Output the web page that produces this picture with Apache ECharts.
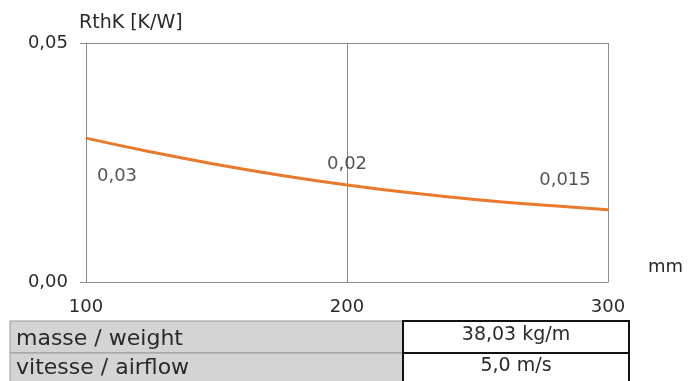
<!DOCTYPE html>
<html>
<head>
<meta charset="utf-8">
<script src="https://cdn.jsdelivr.net/npm/echarts@6/dist/echarts.min.js"></script>
<style>
html,body{margin:0;padding:0;background:#fff;}
#chart{width:688px;height:381px;}
</style>
</head>
<body>
<div id="chart"></div>
<script>
// Curve samples (x in mm, Rth in K/W)
const xValues = [100, 125, 150, 175, 200, 225, 250, 275, 300];
const rthValues = [0.0301, 0.0272, 0.0246, 0.0223, 0.0203, 0.0186, 0.0172, 0.0161, 0.0151];
// Annotated values
const labelX = [100, 200, 300];
const labelValues = [0.03, 0.02, 0.015];
// Axis ticks
const yTicks = [0, 0.05];
const xTicks = [100, 200, 300];
// Table
const tableLabels = ['masse / weight', 'vitesse / airflow'];
const tableValues = ['38,03 kg/m', '5,0 m/s'];

const FONT = 'DejaVu Sans';
const TXT = '#2a2a2a';
const GRID = '#8a8a8a';
const labelOffsets = [[31, 38], [0, -22], [-43, -30]];

const chart = echarts.init(document.getElementById('chart'));

const graphics = [];
tableLabels.forEach((t, i) => {
  const y = 321 + i * 32;
  graphics.push({type:'rect', shape:{x:10, y:y, width:393, height:32},
    style:{fill:'#d4d4d4', stroke:'#9a9a9a', lineWidth:1}, z:10});
});
tableValues.forEach((t, i) => {
  const y = 321 + i * 32;
  graphics.push({type:'rect', shape:{x:403, y:y, width:226, height:32},
    style:{fill:'#ffffff', stroke:'#111', lineWidth:2}, z:11});
});
tableLabels.forEach((t, i) => {
  graphics.push({type:'text', x:16, y:339 + i * 29,
    style:{text:t, font:'22px "' + FONT + '"', fill:TXT, textVerticalAlign:'middle', textAlign:'left'}, z:12});
});
tableValues.forEach((t, i) => {
  graphics.push({type:'text', x:516, y:335 + i * 31,
    style:{text:t, font:'19px "' + FONT + '"', fill:TXT, textVerticalAlign:'middle', textAlign:'center'}, z:12});
});

chart.setOption({
  animation:false,
  backgroundColor:'#fff',
  textStyle:{fontFamily:FONT},
  grid:{left:86, right:80, top:43, bottom:99, containLabel:false},
  xAxis:{
    type:'value', min:xTicks[0], max:xTicks[xTicks.length-1], interval:100,
    name:'mm', nameLocation:'end', nameGap:40,
    nameTextStyle:{color:TXT, fontSize:18, fontFamily:FONT, align:'left', verticalAlign:'bottom', padding:[0,0,6,0]},
    axisLine:{show:true, lineStyle:{color:GRID, width:1}},
    axisTick:{show:false},
    axisLabel:{color:TXT, fontSize:18, fontFamily:FONT, margin:16},
    splitLine:{show:true, lineStyle:{color:GRID, width:1}}
  },
  yAxis:{
    type:'value', min:yTicks[0], max:yTicks[1], interval:0.05,
    name:'RthK [K/W]', nameLocation:'end', nameGap:10,
    nameTextStyle:{color:TXT, fontSize:19, fontFamily:FONT, align:'left', padding:[0,0,0,-7]},
    axisLine:{show:true, lineStyle:{color:GRID, width:1}},
    axisTick:{show:true, length:6, lineStyle:{color:GRID, width:1}},
    axisLabel:{color:TXT, fontSize:18, fontFamily:FONT, margin:18,
      formatter:v => v.toFixed(2).replace('.', ',')},
    splitLine:{show:true, lineStyle:{color:GRID, width:1}}
  },
  series:[
    {
      type:'line', smooth:true, showSymbol:false, symbol:'none',
      data:xValues.map((x, i) => [x, rthValues[i]]),
      lineStyle:{color:'#e97a2c', width:3},
      z:5
    },
    {
      type:'scatter', symbolSize:0,
      data:labelX.map((x, i) => ({
        value:[x, labelValues[i]],
        label:{offset:labelOffsets[i]}
      })),
      label:{show:true, position:'inside', color:TXT, fontSize:18, fontFamily:FONT,
        formatter:p => String(p.value[1]).replace('.', ',')},
      itemStyle:{color:'transparent'},
      silent:true, z:6
    }
  ],
  graphic:graphics
});
</script>
</body>
</html>
